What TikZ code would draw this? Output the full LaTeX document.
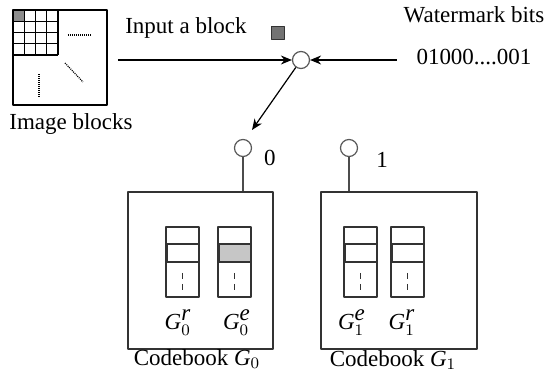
\documentclass[tikz,border=0pt]{standalone}
\usepackage{fontspec}
\setmainfont{Liberation Serif}
\newfontfamily\tmsfont{Liberation Serif}
\usetikzlibrary{positioning,arrows.meta}
\tikzset{
  port/.style={circle,draw=black!65,line width=0.6pt,fill=white,minimum size=8.5pt,inner sep=0pt},
  book/.style={draw=black!80,line width=1pt,minimum width=72.5pt,minimum height=78.5pt,inner sep=0pt},
  col/.style={draw=black!80,line width=0.7pt},
  dots/.style={dash pattern=on 0.5pt off 0.5pt,line width=0.6pt}
}
\newcommand{\gcb}[2]{$\textit{G}_{#1}^{\textit{#2}}$}
\begin{document}
\begin{tikzpicture}[x=0.5pt,y=-0.5pt,font=\tmsfont\fontsize{11.5}{13}\selectfont,line join=round,>={Stealth[length=5.5pt,width=4.5pt]}]
\useasboundingbox (0,0) rectangle (548,373);
% image blocks
\fill[gray!90] (13,10) rectangle (24.25,21.25);
\foreach \i in {0,...,4} {
  \draw[line width=0.7pt] (13+\i*11.25,10) -- (13+\i*11.25,55);
  \draw[line width=0.7pt] (13,10+\i*11.25) -- (58,10+\i*11.25);
}
\draw[line width=0.7pt] (13,10) rectangle (107,105);
\draw[dots] (68,35) -- (92,35);
\draw[dots] (65,63) -- (83,82);
\draw[dots] (39,74) -- (39,97);
\node (imgtxt) at (71,124) {Image blocks};
% input side
\node (intxt) at (186,28) {Input a block};
\node[draw=black!80,fill=gray!90!black,minimum size=6.5pt,inner sep=0pt,line width=0.5pt] (blk) at (278,33) {};
\node[port] (sw) at (301,60) {};
\coordinate (src) at (118,60);
\draw[->,line width=0.6pt] (src) -- (sw);
\node (wmtxt) at (474,15) {Watermark bits};
\node (bits) at (474,57) {01000....001};
\coordinate (bsrc) at (397,60);
\draw[->,line width=0.6pt] (bsrc) -- (sw);
\coordinate (tip) at (252,130);
\draw[->,line width=0.6pt] (sw) -- (tip);
% codebooks
\node[book] (cb0) at (200.5,270.5) {};
\node[book,minimum width=78pt] (cb1) at (399,270.5) {};
\node[port] (p0) at (243,148) {};
\node[port] (p1) at (349,148) {};
\draw[black!70,line width=0.6pt] (p0) -- (p0 |- cb0.north);
\draw[black!70,line width=0.6pt] (p1) -- (p1 |- cb1.north);
\node (l0) at (270,158) {0};
\node (l1) at (382,160) {1};
\foreach \cx/\fc in {166/white, 218/gray!45, 344/white, 391/white} {
  \draw[col] (\cx,227) rectangle ++(33,70);
  \draw[col,fill=\fc] (\cx,244) rectangle ++(33,18);
  \draw[black!80,line width=1.4pt] (\cx+0.5,244) -- ++(0,18);
  \draw[black!80,line width=0.6pt,dash pattern=on 3pt off 2.5pt] (\cx+16.5,273) -- ++(0,17);
}
\node (g0r) at (178,323) {\gcb{0}{r}};
\node (g0e) at (237,323) {\gcb{0}{e}};
\node (g1e) at (352,323) {\gcb{1}{e}};
\node (g1r) at (402,323) {\gcb{1}{r}};
\node (cb0txt) at (197,359) {Codebook $\textit{G}_{0}$};
\node (cb1txt) at (393,360) {Codebook $\textit{G}_{1}$};
\end{tikzpicture}
\end{document}
